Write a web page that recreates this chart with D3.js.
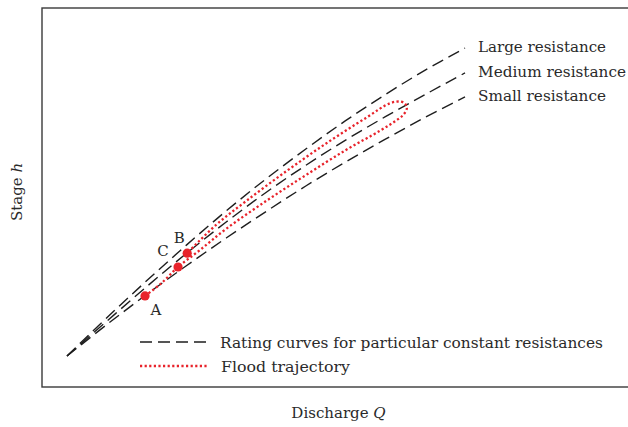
<!DOCTYPE html>
<html>
<head>
<meta charset="utf-8">
<script src="https://cdn.jsdelivr.net/npm/d3@7"></script>
<style>
  html, body { margin: 0; padding: 0; background: #fff; }
  svg { display: block; }
  text { font-family: "DejaVu Serif", "Liberation Serif", serif; fill: #2a2a2a; }
</style>
</head>
<body>
<svg id="chart" width="628" height="427"></svg>
<script>
// Discharge values shared by the three rating curves
const discharge = [0, 1, 2, 3, 4, 5, 6, 7, 8, 9, 10];

// Stage for each constant-resistance rating curve
const stageLarge  = [0, 1.24, 2.44, 3.60, 4.71, 5.75, 6.72, 7.64, 8.49, 9.28, 10.0];
const stageMedium = [0, 1.13, 2.25, 3.33, 4.35, 5.31, 6.19, 7.01, 7.77, 8.49, 9.19];
const stageSmall  = [0, 1.02, 2.00, 2.93, 3.83, 4.69, 5.52, 6.30, 7.04, 7.75, 8.41];

const curveNames = ["Large resistance", "Medium resistance", "Small resistance"];
const curveLabelWidths = [128, 148, 128];

// Flood trajectory (hysteresis loop), from A through C, round the peak and back to B
const loopQ = [1.96, 2.36, 2.79, 3.34, 3.99, 5.00, 6.01, 7.01, 7.86, 8.32, 8.47, 8.54, 8.49, 8.37, 8.12, 7.51, 6.51, 5.50, 4.50, 3.74, 3.02];
const loopH = [1.95, 2.35, 2.89, 3.44, 4.12, 5.03, 5.88, 6.69, 7.31, 7.69, 7.86, 8.05, 8.20, 8.26, 8.21, 7.73, 6.90, 5.99, 5.03, 4.25, 3.34];

// Marked states on the trajectory
const pointNames = ["A", "B", "C"];
const pointQ = [1.96, 3.02, 2.79];
const pointH = [1.95, 3.34, 2.89];

const legendLabels = ["Rating curves for particular constant resistances", "Flood trajectory"];

const svg = d3.select("#chart");
const x = d3.scaleLinear().domain([0, 10]).range([67, 465]);
const y = d3.scaleLinear().domain([0, 10]).range([356, 48]);

const ink = "#1e1e1e";
const red = "#e8232b";
const fs = 14;

// plot frame
svg.append("rect")
  .attr("x", 42).attr("y", 8)
  .attr("width", 600).attr("height", 379)
  .attr("fill", "none").attr("stroke", "#3a3a3a").attr("stroke-width", 1.4);

const line = d3.line()
  .x(d => x(d[0])).y(d => y(d[1]))
  .curve(d3.curveCatmullRom.alpha(0.5));

// rating curves
const stages = [stageLarge, stageMedium, stageSmall];
stages.forEach((s, i) => {
  const pts = discharge.map((q, j) => [q, s[j]]);
  svg.append("path")
    .attr("d", line(pts))
    .attr("fill", "none")
    .attr("stroke", ink)
    .attr("stroke-width", 1.4)
    .attr("stroke-dasharray", "12,6");
  const last = pts[pts.length - 1];
  svg.append("text")
    .attr("x", x(last[0]) + 13)
    .attr("y", y(last[1]) + 4)
    .attr("font-size", fs)
    .attr("textLength", curveLabelWidths[i]).attr("lengthAdjust", "spacingAndGlyphs")
    .text(curveNames[i]);
});

// flood trajectory
const loopPts = loopQ.map((q, j) => [q, loopH[j]]);
svg.append("path")
  .attr("d", line(loopPts))
  .attr("fill", "none")
  .attr("stroke", red)
  .attr("stroke-width", 2.3)
  .attr("stroke-dasharray", "2.2,2.4");

// points and their letters
const labelOffset = { A: [11, 14], B: [-8, -15], C: [-15, -16] };
pointNames.forEach((n, i) => {
  const px = x(pointQ[i]), py = y(pointH[i]);
  svg.append("circle")
    .attr("cx", px).attr("cy", py).attr("r", 4.6)
    .attr("fill", red);
  svg.append("text")
    .attr("x", px + labelOffset[n][0])
    .attr("y", py + labelOffset[n][1] + 5)
    .attr("text-anchor", "middle")
    .attr("font-size", 15)
    .text(n);
});

// legend
const legend = svg.append("g");
legend.append("line")
  .attr("x1", 140).attr("x2", 206).attr("y1", 342).attr("y2", 342)
  .attr("stroke", ink).attr("stroke-width", 1.6)
  .attr("stroke-dasharray", "12,6");
legend.append("line")
  .attr("x1", 140).attr("x2", 207).attr("y1", 366).attr("y2", 366)
  .attr("stroke", red).attr("stroke-width", 2.3)
  .attr("stroke-dasharray", "2.2,2.4");
legend.append("text").attr("x", 220).attr("y", 347.5).attr("font-size", fs)
  .attr("textLength", 383).attr("lengthAdjust", "spacingAndGlyphs")
  .text(legendLabels[0]);
legend.append("text").attr("x", 221).attr("y", 371.5).attr("font-size", fs)
  .attr("textLength", 129).attr("lengthAdjust", "spacingAndGlyphs")
  .text(legendLabels[1]);

// axis titles
const xt = svg.append("text")
  .attr("x", 338.5).attr("y", 418)
  .attr("text-anchor", "middle")
  .attr("font-size", 15);
xt.append("tspan").text("Discharge ");
xt.append("tspan").attr("font-style", "italic").text("Q");

const yt = svg.append("text")
  .attr("transform", "translate(22,192) rotate(-90)")
  .attr("text-anchor", "middle")
  .attr("font-size", 15);
yt.append("tspan").text("Stage ");
yt.append("tspan").attr("font-style", "italic").text("h");
</script>
</body>
</html>
